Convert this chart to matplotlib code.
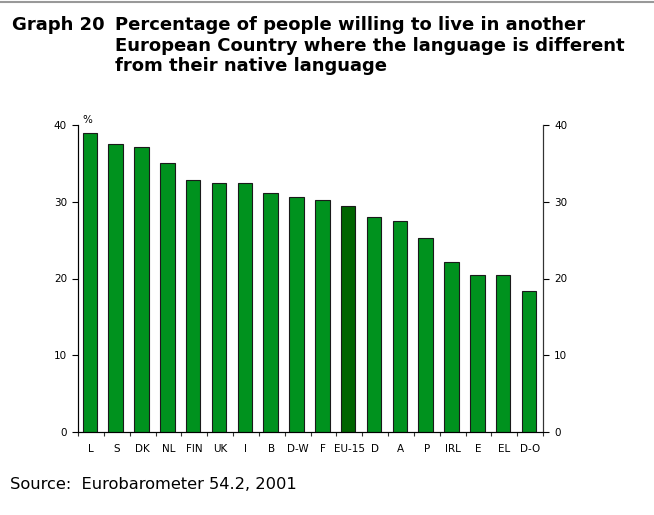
import matplotlib
matplotlib.use("Agg")
import matplotlib.pyplot as plt
from matplotlib.lines import Line2D

categories = ["L", "S", "DK", "NL", "FIN", "UK", "I", "B", "D-W", "F",
              "EU-15", "D", "A", "P", "IRL", "E", "EL", "D-O"]
values = [39.0, 37.5, 37.1, 35.1, 32.8, 32.4, 32.4, 31.1, 30.6, 30.2,
          29.5, 28.0, 27.5, 25.3, 22.1, 20.5, 20.5, 18.4]
yticks = [0, 10, 20, 30, 40]
title_lines = ["Percentage of people willing to live in another",
               "European Country where the language is different",
               "from their native language"]

FONT = ["DejaVu Sans"]
plt.rcParams["font.family"] = FONT

W, H = 654, 515
fig = plt.figure(figsize=(W / 100, H / 100), dpi=100)

ax = fig.add_axes([78 / W, 1 - 432 / H, (543 - 78) / W, (432 - 125) / H])
n = len(categories)
x = list(range(n))
colors = ["#006400" if c == "EU-15" else "#00921E" for c in categories]
ax.bar([i - 0.04 for i in x], values, width=0.56, color=colors, edgecolor="#1a1a1a",
       linewidth=0.8, zorder=3)

ax.set_xlim(-0.5, n - 0.5)
ax.set_ylim(0, 40)
ax.set_yticks(yticks)
ax.set_yticklabels([str(v) for v in yticks], fontsize=7.5)
ax.set_xticks(x)
ax.set_xticklabels(categories, fontsize=7.5)
ax.tick_params(axis="x", length=0, pad=9)
ax.set_xticks([i + 0.5 for i in range(-1, n)], minor=True)
ax.tick_params(axis="x", which="minor", length=3, width=0.8, direction="out", colors="#333333")
ax.tick_params(axis="y", length=4, width=0.8, direction="out", pad=4)
ax.spines["top"].set_visible(False)
for s in ["left", "bottom", "right"]:
    ax.spines[s].set_linewidth(0.8)
    ax.spines[s].set_color("#333333")

ax2 = ax.twinx()
ax2.set_ylim(0, 40)
ax2.set_yticks(yticks)
ax2.set_yticklabels([str(v) for v in yticks], fontsize=7.5)
ax2.tick_params(axis="y", length=4, width=0.8, direction="out", pad=4)
ax2.spines["top"].set_visible(False)
ax2.spines["right"].set_linewidth(0.8)
ax2.spines["right"].set_color("#333333")

ax.text(0.01, 1.0, "%", transform=ax.transAxes, fontsize=7.5, ha="left", va="bottom")

# top rule
fig.add_artist(Line2D([0, 1], [1 - 1.5 / H, 1 - 1.5 / H], color="#999999", linewidth=1.5))

fig.text(12 / W, 1 - 30 / H, "Graph 20", fontsize=13, fontweight="bold", ha="left", va="baseline")
for line, yb in zip(title_lines, [30, 51, 71]):
    fig.text(115 / W, 1 - yb / H, line, fontsize=13, fontweight="bold", ha="left", va="baseline")

fig.text(10 / W, 1 - 489 / H, "Source:  Eurobarometer 54.2, 2001", fontsize=11.7, ha="left", va="baseline")

fig.savefig("out.png", dpi=100)
